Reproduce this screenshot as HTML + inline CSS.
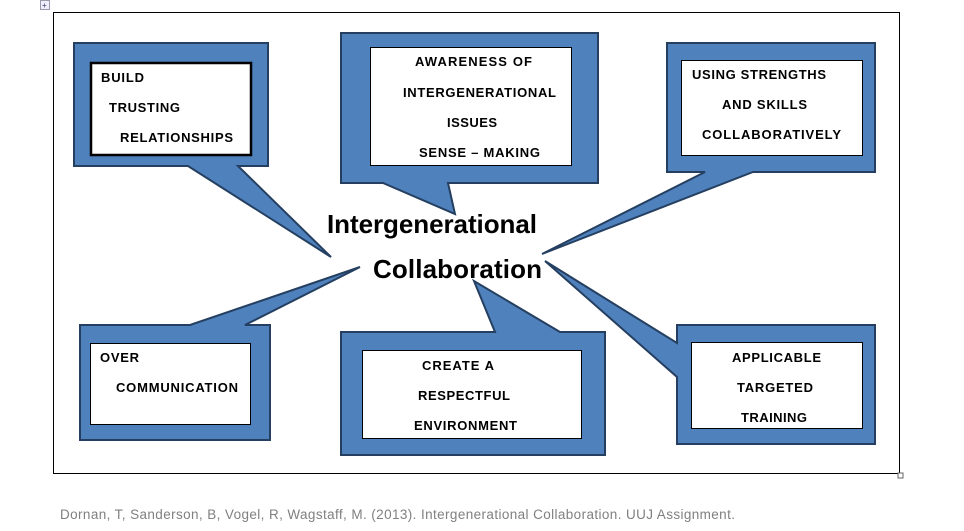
<!DOCTYPE html>
<html><head><meta charset="utf-8"><style>
html,body{margin:0;padding:0;background:#fff;}
svg{display:block;}
text{font-family:"Liberation Sans",Arial,sans-serif;font-weight:bold;fill:#000;}
</style></head><body>
<svg width="964" height="531" viewBox="0 0 964 531" xmlns="http://www.w3.org/2000/svg">
<rect x="40.5" y="0.5" width="9" height="9" fill="#eef" stroke="#99a"/>
<text x="42" y="8" style="font-size:8px;font-weight:normal;fill:#336">+</text>
<rect x="53.5" y="12.5" width="846" height="461" fill="#fff" stroke="#000" stroke-width="1"/>
<rect x="898" y="473" width="5" height="5" fill="#fff" stroke="#666"/>
<g fill="#4f81bd" stroke="#243f60" stroke-width="2" stroke-linejoin="miter">
<polygon points="74,43 268,43 268,166 238,166 331,257 188,166 74,166"/>
<polygon points="341,33 598,33 598,183 448,183 455,214 383,183 341,183"/>
<polygon points="667,43 875,43 875,172 753,172 542,254 705,172 667,172"/>
<polygon points="80,325 190,325 360,267 245,325 270,325 270,440 80,440"/>
<polygon points="341,332 495,332 474,281 560,332 605,332 605,455 341,455"/>
<polygon points="677,325 875,325 875,444 677,444 677,377 545,261 677,343"/>
</g>
<g fill="#fff">
<rect x="91" y="63" width="160" height="92" stroke="#000" stroke-width="2.5"/>
<rect x="370.5" y="47.5" width="201" height="118" stroke="#000" stroke-width="1"/>
<rect x="681.5" y="60.5" width="181" height="95" stroke="#000" stroke-width="1"/>
<rect x="90.5" y="343.5" width="160" height="81" stroke="#000" stroke-width="1"/>
<rect x="362.5" y="350.5" width="219" height="88" stroke="#000" stroke-width="1"/>
<rect x="691.5" y="342.5" width="171" height="86" stroke="#000" stroke-width="1"/>
</g>
<g style="font-size:13px">
<text x="101" y="82" textLength="43">BUILD</text>
<text x="109" y="112" textLength="71">TRUSTING</text>
<text x="120" y="142" textLength="113">RELATIONSHIPS</text>
<text x="415" y="66" textLength="117">AWARENESS  OF</text>
<text x="403" y="97" textLength="153">INTERGENERATIONAL</text>
<text x="447" y="127" textLength="50">ISSUES</text>
<text x="419" y="157" textLength="121">SENSE – MAKING</text>
<text x="692" y="79" textLength="134">USING STRENGTHS</text>
<text x="722" y="109" textLength="85">AND SKILLS</text>
<text x="702" y="139" textLength="139">COLLABORATIVELY</text>
<text x="100" y="362" textLength="39">OVER</text>
<text x="116" y="392" textLength="122">COMMUNICATION</text>
<text x="422" y="370" textLength="72">CREATE A</text>
<text x="418" y="400" textLength="92">RESPECTFUL</text>
<text x="414" y="430" textLength="103">ENVIRONMENT</text>
<text x="732" y="362" textLength="89">APPLICABLE</text>
<text x="737" y="392" textLength="76">TARGETED</text>
<text x="741" y="422" textLength="66">TRAINING</text>
</g>
<text x="327" y="233" style="font-size:26px" textLength="210">Intergenerational</text>
<text x="373" y="278" style="font-size:26px" textLength="169">Collaboration</text>
<text x="60" y="519" style="font-size:13.5px;font-weight:normal;fill:#808080" textLength="675">Dornan, T, Sanderson, B, Vogel, R, Wagstaff, M. (2013). Intergenerational Collaboration.  UUJ Assignment.</text>
</svg>
</body></html>
